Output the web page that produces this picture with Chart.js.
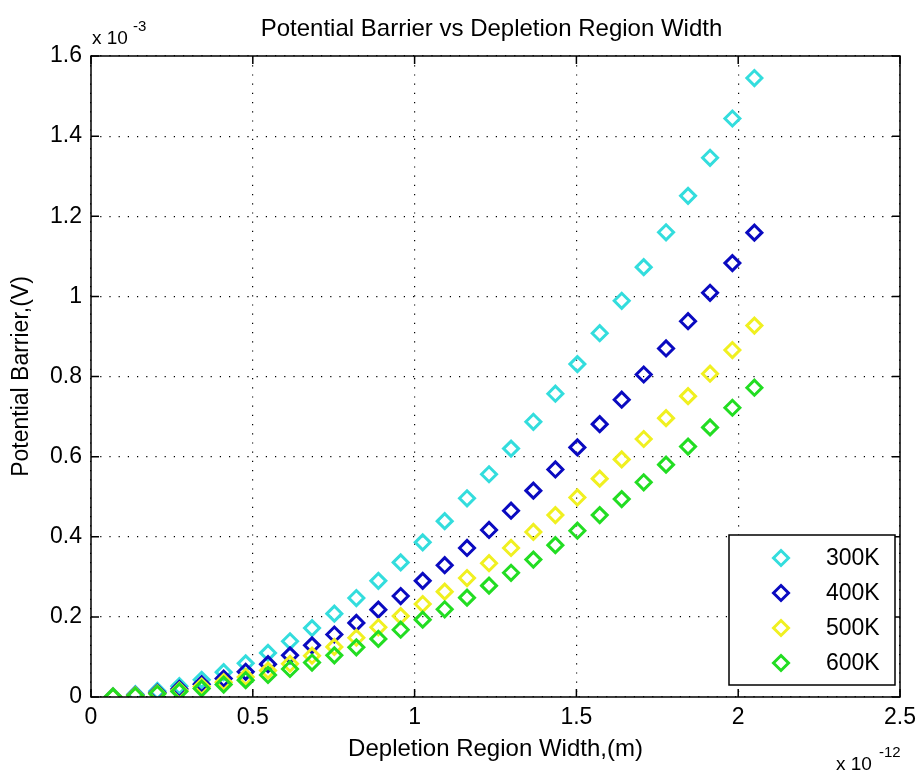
<!DOCTYPE html>
<html>
<head>
<meta charset="utf-8">
<script src="https://cdn.jsdelivr.net/npm/chart.js@4.4.1/dist/chart.umd.min.js"></script>
<style>
  html, body { margin: 0; padding: 0; background: #fff; }
  #wrap { width: 923px; height: 775px; position: relative; }
</style>
</head>
<body>
<div id="wrap"><canvas id="myChart" width="923" height="775"></canvas></div>
<script>
// depletion width, units of 1e-12 m
const larguras = [0.068, 0.137, 0.205, 0.273, 0.342, 0.41, 0.478, 0.547, 0.615, 0.683,
  0.752, 0.82, 0.888, 0.957, 1.025, 1.093, 1.162, 1.23, 1.298, 1.367,
  1.435, 1.503, 1.572, 1.64, 1.708, 1.777, 1.845, 1.913, 1.982, 2.05];

// potential barrier, units of 1e-3 V
const v300 = [0.002, 0.007, 0.015, 0.027, 0.043, 0.062, 0.084, 0.11, 0.139, 0.172,
  0.208, 0.247, 0.29, 0.336, 0.386, 0.439, 0.496, 0.556, 0.62, 0.687,
  0.757, 0.831, 0.908, 0.989, 1.073, 1.16, 1.251, 1.346, 1.444, 1.545];
const v400 = [0.001, 0.005, 0.011, 0.02, 0.032, 0.046, 0.063, 0.082, 0.104, 0.129,
  0.156, 0.185, 0.218, 0.252, 0.29, 0.329, 0.372, 0.417, 0.465, 0.515,
  0.568, 0.623, 0.681, 0.742, 0.805, 0.87, 0.938, 1.009, 1.083, 1.159];
const v500 = [0.001, 0.004, 0.009, 0.016, 0.026, 0.037, 0.05, 0.066, 0.083, 0.103,
  0.125, 0.148, 0.174, 0.202, 0.232, 0.263, 0.297, 0.334, 0.372, 0.412,
  0.454, 0.498, 0.545, 0.593, 0.644, 0.696, 0.751, 0.807, 0.866, 0.927];
const v600 = [0.001, 0.003, 0.008, 0.014, 0.021, 0.031, 0.042, 0.055, 0.07, 0.086,
  0.104, 0.124, 0.145, 0.168, 0.193, 0.219, 0.248, 0.278, 0.31, 0.343,
  0.379, 0.415, 0.454, 0.494, 0.536, 0.58, 0.625, 0.673, 0.722, 0.772];

const temperaturas = ["300K", "400K", "500K", "600K"];
const series = [v300, v400, v500, v600];
const cores = ["#33dddd", "#0a0ac0", "#f0f020", "#22dd22"];

const xTicks = [0, 0.5, 1, 1.5, 2, 2.5];
const yTicks = [0, 0.2, 0.4, 0.6, 0.8, 1, 1.2, 1.4, 1.6];

const titulo = "Potential Barrier vs Depletion Region Width";
const fonte = "'Liberation Sans', Arial, sans-serif";

function getDatasets() {
  return series.map((valores, i) => ({
    label: temperaturas[i],
    data: valores.map((v, k) => ({ x: larguras[k], y: v })),
    showLine: false,
    pointStyle: "rectRot",
    pointRadius: 7.5,
    pointHoverRadius: 7.5,
    pointBorderWidth: 3,
    borderColor: cores[i],
    backgroundColor: "rgba(255,255,255,0)",
    order: series.length - i,
  }));
}

// title, box, inner ticks, exponent labels and legend (matlab style)
const matlabBox = {
  id: "matlabBox",
  afterDatasetsDraw(chart) {
    const { ctx, chartArea: a, scales } = chart;
    ctx.save();
    ctx.strokeStyle = "#000";
    ctx.lineWidth = 1.5;
    ctx.strokeRect(a.left, a.top, a.right - a.left, a.bottom - a.top);

    const tl = 8;
    ctx.beginPath();
    xTicks.forEach((t) => {
      const px = scales.x.getPixelForValue(t);
      ctx.moveTo(px, a.bottom); ctx.lineTo(px, a.bottom - tl);
      ctx.moveTo(px, a.top); ctx.lineTo(px, a.top + tl);
    });
    yTicks.forEach((t) => {
      const py = scales.y.getPixelForValue(t);
      ctx.moveTo(a.left, py); ctx.lineTo(a.left + tl, py);
      ctx.moveTo(a.right, py); ctx.lineTo(a.right - tl, py);
    });
    ctx.stroke();

    ctx.fillStyle = "#000";
    ctx.textBaseline = "middle";
    ctx.textAlign = "center";
    ctx.font = "24px " + fonte;
    ctx.fillText(titulo, (a.left + a.right) / 2 - 4, 29);

    // exponents
    ctx.textBaseline = "alphabetic";
    ctx.textAlign = "left";
    ctx.font = "19px " + fonte;
    ctx.fillText("x 10", a.left + 1, 44);
    ctx.font = "15px " + fonte;
    ctx.fillText("-3", a.left + 42, 31);
    ctx.font = "19px " + fonte;
    ctx.fillText("x 10", 836, 770);
    ctx.font = "15px " + fonte;
    ctx.fillText("-12", 879, 757);

    // legend
    const lx = 729, ly = 535, lw = 166, lh = 150;
    ctx.fillStyle = "#fff";
    ctx.fillRect(lx, ly, lw, lh);
    ctx.strokeStyle = "#000";
    ctx.lineWidth = 1.5;
    ctx.strokeRect(lx, ly, lw, lh);
    const rows = [558, 593, 628, 663];
    temperaturas.forEach((nome, i) => {
      const y = rows[i];
      ctx.strokeStyle = cores[i];
      ctx.lineWidth = 3;
      ctx.beginPath();
      ctx.moveTo(781, y - 7.5); ctx.lineTo(788.5, y); ctx.lineTo(781, y + 7.5); ctx.lineTo(773.5, y);
      ctx.closePath();
      ctx.stroke();
      ctx.fillStyle = "#000";
      ctx.font = "23px " + fonte;
      ctx.textBaseline = "middle";
      ctx.textAlign = "left";
      ctx.fillText(nome, 826, y + 1);
    });
    ctx.restore();
  },
};

const gradePontilhada = {
  color: "#000",
  lineWidth: 1.2,
  drawTicks: false,
};
const bordaPontilhada = { display: false, dash: [1.2, 8] };

const ctx = document.getElementById("myChart");

new Chart(ctx, {
  type: "scatter",
  data: { datasets: getDatasets() },
  options: {
    responsive: false,
    animation: false,
    events: [],
    layout: { padding: { left: 0, right: 17, top: 56, bottom: 0 } },
    plugins: {
      legend: { display: false },
      tooltip: { enabled: false },
      title: { display: false },
    },
    scales: {
      x: {
        type: "linear",
        min: 0,
        max: 2.5,
        afterFit: (scale) => { scale.height = 78; },
        afterBuildTicks: (scale) => { scale.ticks = xTicks.map((v) => ({ value: v })); },
        ticks: {
          color: "#000",
          padding: 7,
          maxRotation: 0,
          font: { family: fonte, size: 23 },
          callback: (v) => String(+Number(v).toFixed(2)),
        },
        grid: gradePontilhada,
        border: bordaPontilhada,
        title: {
          display: true,
          text: "Depletion Region Width,(m)",
          color: "#000",
          font: { family: fonte, size: 24, lineHeight: 1.2 },
          padding: { top: 0, bottom: 11 },
        },
      },
      y: {
        type: "linear",
        min: 0,
        max: 1.6,
        afterFit: (scale) => { scale.width = 91; },
        afterBuildTicks: (scale) => { scale.ticks = yTicks.map((v) => ({ value: v })); },
        ticks: {
          color: "#000",
          padding: 9,
          font: { family: fonte, size: 23 },
          callback: (v) => String(+Number(v).toFixed(2)),
        },
        grid: gradePontilhada,
        border: bordaPontilhada,
        title: {
          display: true,
          text: "Potential Barrier,(V)",
          color: "#000",
          font: { family: fonte, size: 23, lineHeight: 1.2 },
          padding: { top: 8, bottom: 0 },
        },
      },
    },
  },
  plugins: [matlabBox],
});
</script>
</body>
</html>
